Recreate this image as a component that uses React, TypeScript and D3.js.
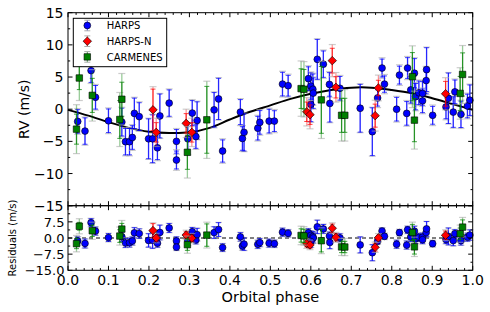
import * as d3 from 'd3';

// [phase, RV (m/s), error (m/s)]
const harps: [number, number, number][] = [
  [0.024, -1.9, 2.0], [0.042, -3.4, 2.2], [0.057, 6.0, 2.0], [0.068, 1.85, 2.0],
  [0.1, -1.8, 2.0], [0.133, -2.0, 2.3], [0.142, -5.05, 2.2], [0.152, -5.05, 2.2],
  [0.159, -4.4, 2.0], [0.164, -0.65, 2.5], [0.176, -1.15, 2.3], [0.199, -4.6, 3.2],
  [0.209, -4.6, 3.8], [0.221, -6.0, 2.0], [0.227, -1.05, 3.5], [0.25, 0.95, 2.2],
  [0.268, -5.0, 2.0], [0.268, -7.9, 1.6], [0.296, -4.6, 2.5], [0.307, -0.6, 2.1],
  [0.316, -4.25, 2.0], [0.319, -1.75, 3.0], [0.361, -0.1, 2.8], [0.372, 1.6, 3.3],
  [0.382, -6.5, 1.9], [0.426, -0.45, 2.1], [0.431, -4.55, 2.0], [0.435, -3.6, 3.0],
  [0.469, -2.95, 2.0], [0.474, -2.05, 2.0], [0.497, -1.85, 2.0], [0.51, -1.85, 1.8],
  [0.53, 3.9, 2.0], [0.544, 3.65, 1.8], [0.594, 4.75, 2.0], [0.6, 3.6, 2.2],
  [0.605, 3.1, 2.5], [0.606, 2.5, 2.5], [0.6, 0.75, 2.8], [0.616, 7.75, 3.2],
  [0.631, 7.0, 2.2], [0.646, 3.85, 2.0], [0.647, 0.9, 3.0], [0.672, 3.25, 2.0],
  [0.722, 0.15, 3.8], [0.752, -3.5, 3.8], [0.765, 1.75, 1.5], [0.776, 6.4, 1.6],
  [0.782, 3.9, 1.5], [0.812, 0.0, 2.0], [0.819, 5.3, 1.6], [0.837, -0.65, 2.0],
  [0.839, 6.4, 1.8], [0.847, 3.0, 2.2], [0.856, 5.6, 2.4], [0.859, 1.95, 2.2],
  [0.867, 2.55, 2.0], [0.876, 2.45, 2.0], [0.876, 1.3, 2.0], [0.885, 4.45, 2.2],
  [0.886, 6.15, 3.5], [0.901, -0.95, 1.6], [0.934, 0.35, 2.0], [0.94, 1.7, 4.0],
  [0.952, -0.45, 2.5], [0.956, 2.7, 2.0], [0.971, -0.8, 2.2], [0.987, 0.5, 2.0],
  [0.993, 1.4, 2.5],
];

const harpsN: [number, number, number][] = [
  [0.21, -0.1, 3.6], [0.218, -3.6, 2.2], [0.292, -2.2, 2.2], [0.306, -3.6, 2.2],
  [0.59, -0.4, 2.2], [0.598, -0.85, 2.2], [0.653, 7.55, 2.5], [0.662, 3.4, 2.3],
  [0.759, -1.0, 2.4], [0.767, 3.3, 2.0], [0.933, 2.4, 2.5],
];

const carmenes: [number, number, number][] = [
  [0.021, -3.1, 3.8], [0.028, 4.85, 3.5], [0.06, 2.15, 4.0], [0.128, -1.6, 4.2],
  [0.133, 1.55, 4.0], [0.295, -6.7, 4.0], [0.343, -1.65, 6.0], [0.576, 3.2, 4.3],
  [0.583, 3.1, 4.3], [0.626, 1.45, 6.0], [0.676, -0.95, 4.0], [0.684, -0.95, 4.0],
  [0.851, 5.05, 4.8], [0.856, -1.7, 4.5], [0.969, 2.45, 4.0], [0.975, 5.4, 4.5],
];

// model curve
const modelPhase = [0, 0.05, 0.1, 0.15, 0.2, 0.25, 0.3, 0.35, 0.4, 0.45, 0.5,
  0.55, 0.6, 0.65, 0.7, 0.75, 0.8, 0.85, 0.9, 0.95, 1.0];
const modelRV = [-0.1, -1.0, -2.0, -2.9, -3.5, -3.7, -3.6, -2.9, -1.6, -0.4, 0.6,
  1.6, 2.4, 3.0, 3.35, 3.35, 3.0, 2.5, 1.7, 0.8, -0.1];

const instruments = ['HARPS', 'HARPS-N', 'CARMENES'];
const colors = ['#0000ff', '#ff0000', '#008000'];
const jitter = [0.8, 1.6, 3.0];

const xTicks = [0, 0.1, 0.2, 0.3, 0.4, 0.5, 0.6, 0.7, 0.8, 0.9, 1.0];
const rvTicks = [-15, -10, -5, 0, 5, 10, 15];
const resTicks = [-15, -7.5, 0, 7.5, 15];
const resLabels = ['−15.0', '−7.5', '0.0', '7.5', ''];

const L = 68, R = 472.7, TOP = 12.7, MID = 205.7, BOT = 270.3;
const FONT = 'DejaVu Sans, sans-serif';

const x = d3.scaleLinear().domain([0, 1]).range([L, R]);
const yRv = d3.scaleLinear().domain([-15, 15]).range([MID, TOP]);
const yRes = d3.scaleLinear().domain([-15, 15]).range([BOT, MID]);
const model = d3.scaleLinear().domain(modelPhase).range(modelRV);

const fmtMinus = (v: number, s: string) => (v < 0 ? '−' + s.replace('-', '') : s);

function Marker({ kind, cx, cy }: { kind: number; cx: number; cy: number }) {
  const c = colors[kind];
  if (kind === 0) return <circle cx={cx} cy={cy} r={3.4} fill={c} stroke="#000" strokeWidth={0.6} />;
  if (kind === 1)
    return (
      <path d={d3.symbol(d3.symbolSquare, 36)()!} transform={`translate(${cx},${cy}) rotate(45)`}
        fill={c} stroke="#000" strokeWidth={0.6} />
    );
  return (
    <path d={d3.symbol(d3.symbolSquare, 42)()!} transform={`translate(${cx},${cy})`}
      fill={c} stroke="#000" strokeWidth={0.6} />
  );
}

function Series({ kind, data, resid }: { kind: number; data: [number, number, number][]; resid: boolean }) {
  const y = resid ? yRes : yRv;
  const c = colors[kind];
  const j = jitter[kind];
  // residuals = RV minus the model curve at that phase
  const pts = data.map(([p, v, e]) => ({ p, v: resid ? v - model(p) : v, e }));
  return (
    <g>
      {pts.map((d, i) => {
        const cx = x(d.p);
        const inner = Math.sqrt(Math.max(d.e * d.e - j * j, 0.4));
        const o1 = y(d.v + d.e), o2 = y(d.v - d.e);
        const i1 = y(d.v + inner), i2 = y(d.v - inner);
        return (
          <g key={i}>
            <line x1={cx} x2={cx} y1={o1} y2={o2} stroke={c} strokeOpacity={0.4} strokeWidth={1.3} />
            <line x1={cx - 3.5} x2={cx + 3.5} y1={o1} y2={o1} stroke="#aaa" strokeOpacity={0.6} strokeWidth={1.2} />
            <line x1={cx - 3.5} x2={cx + 3.5} y1={o2} y2={o2} stroke="#aaa" strokeOpacity={0.6} strokeWidth={1.2} />
            <line x1={cx} x2={cx} y1={i1} y2={i2} stroke={c} strokeOpacity={0.75} strokeWidth={1.2} />
            <line x1={cx - 2.5} x2={cx + 2.5} y1={i1} y2={i1} stroke={c} strokeOpacity={0.75} strokeWidth={1} />
            <line x1={cx - 2.5} x2={cx + 2.5} y1={i2} y2={i2} stroke={c} strokeOpacity={0.75} strokeWidth={1} />
          </g>
        );
      })}
      {pts.map((d, i) => (
        <Marker key={'m' + i} kind={kind} cx={x(d.p)} cy={y(d.v)} />
      ))}
    </g>
  );
}

function Frame({ y, top, bottom, minorStep }: { y: d3.ScaleLinear<number, number>; top: number; bottom: number; minorStep: number }) {
  const [d0, d1] = y.domain();
  const yMinor = d3.range(d0, d1 + 1e-6, minorStep);
  const xMinor = d3.range(0, 1.0001, 0.02);
  return (
    <g stroke="#000" strokeWidth={1}>
      {xMinor.map((t, i) => {
        const major = Math.abs(t * 10 - Math.round(t * 10)) < 1e-6;
        const len = major ? 4.5 : 2.2;
        return (
          <g key={'x' + i}>
            <line x1={x(t)} x2={x(t)} y1={bottom} y2={bottom - len} />
            <line x1={x(t)} x2={x(t)} y1={top} y2={top + len} />
          </g>
        );
      })}
      {yMinor.map((t, i) => {
        const len = i % 2 === 0 ? 4.5 : 2.2;
        return (
          <g key={'y' + i}>
            <line x1={L} x2={L + len} y1={y(t)} y2={y(t)} />
            <line x1={R} x2={R - len} y1={y(t)} y2={y(t)} />
          </g>
        );
      })}
      <rect x={L} y={top} width={R - L} height={bottom - top} fill="none" />
    </g>
  );
}

export default function App() {
  const curve = d3
    .line<number>()
    .x((p) => x(p))
    .y((_, i) => yRv(modelRV[i]))
    .curve(d3.curveCatmullRom)(modelPhase);
  const sets = [harps, harpsN, carmenes];

  return (
    <svg width={490} height={312} style={{ position: 'absolute', left: 0, top: 0, background: '#fff' }}
      fontFamily={FONT}>
      <rect width={490} height={312} fill="#fff" />
      {/* main panel */}
      <path d={curve!} fill="none" stroke="#000" strokeWidth={2} />
      {sets.map((s, k) => <Series key={k} kind={k} data={s} resid={false} />)}
      <Frame y={yRv} top={TOP} bottom={MID} minorStep={2.5} />
      {rvTicks.map((t) => (
        <text key={t} x={L - 4.5} y={yRv(t)} dy="0.36em" textAnchor="end" fontSize={14}>
          {fmtMinus(t, String(t))}
        </text>
      ))}
      <text transform={`translate(23.5,${(TOP + MID) / 2}) rotate(-90)`} textAnchor="middle"
        dy="0.36em" fontSize={14}>RV (m/s)</text>

      {/* legend */}
      <g>
        <rect x={73.3} y={18.3} width={93.4} height={48.4} fill="#fff" stroke="#000" strokeWidth={1} />
        {instruments.map((name, k) => {
          const ly = 25.5 + k * 15.7;
          const lx = 87.3;
          return (
            <g key={name}>
              <line x1={lx} x2={lx} y1={ly - 5.3} y2={ly + 5.3} stroke={colors[k]} strokeOpacity={0.7} />
              <line x1={lx - 3} x2={lx + 3} y1={ly - 5.3} y2={ly - 5.3} stroke="#aaa" />
              <line x1={lx - 3} x2={lx + 3} y1={ly + 5.3} y2={ly + 5.3} stroke="#aaa" />
              <Marker kind={k} cx={lx} cy={ly} />
              <text x={106.7} y={ly} dy="0.36em" fontSize={10}>{name}</text>
            </g>
          );
        })}
      </g>

      {/* residual panel */}
      <line x1={L} x2={R} y1={yRes(0)} y2={yRes(0)} stroke="#000" strokeDasharray="4,3" strokeWidth={1} />
      {sets.map((s, k) => <Series key={k} kind={k} data={s} resid={true} />)}
      <Frame y={yRes} top={MID} bottom={BOT} minorStep={3.75} />
      {resTicks.map((t, i) => (
        <text key={t} x={L - 3.5} y={yRes(t)} dy="0.36em" textAnchor="end" fontSize={13}>
          {resLabels[i]}
        </text>
      ))}
      <text transform={`translate(12,${(MID + BOT) / 2}) rotate(-90)`} textAnchor="middle"
        dy="0.36em" fontSize={10}>Residuals (m/s)</text>

      {xTicks.map((t) => (
        <text key={t} x={x(t)} y={284.5} textAnchor="middle" fontSize={14}>{t.toFixed(1)}</text>
      ))}
      <text x={(L + R) / 2} y={302} textAnchor="middle" fontSize={14.5}>Orbital phase</text>
    </svg>
  );
}
